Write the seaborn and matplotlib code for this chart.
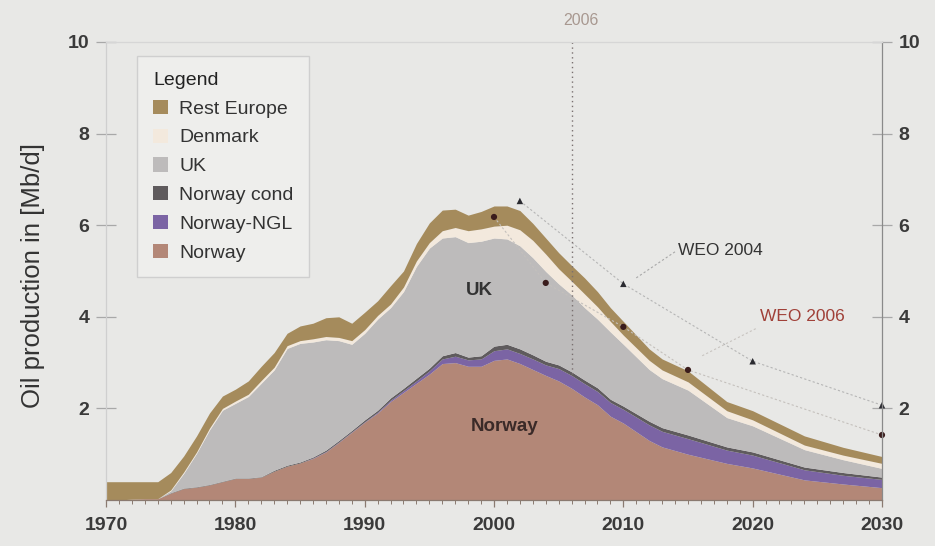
import matplotlib
matplotlib.use("Agg")
import matplotlib.pyplot as plt
import seaborn as sns
import pandas as pd

# Production by source, Mb/d
years = [1970, 1971, 1972, 1973, 1974, 1975, 1976, 1977, 1978, 1979,
         1980, 1981, 1982, 1983, 1984, 1985, 1986, 1987, 1988, 1989,
         1990, 1991, 1992, 1993, 1994, 1995, 1996, 1997, 1998, 1999,
         2000, 2001, 2002, 2003, 2004, 2005, 2006, 2007, 2008, 2009,
         2010, 2012, 2013, 2015, 2018, 2020, 2024, 2027, 2030]

norway = [0.00, 0.00, 0.02, 0.03, 0.03, 0.15, 0.25, 0.28, 0.33, 0.40,
          0.47, 0.47, 0.50, 0.63, 0.74, 0.81, 0.91, 1.05, 1.26, 1.48,
          1.70, 1.90, 2.15, 2.35, 2.55, 2.75, 2.98, 3.00, 2.92, 2.92,
          3.05, 3.08, 2.98, 2.85, 2.72, 2.60, 2.44, 2.25, 2.08, 1.83,
          1.68, 1.30, 1.16, 1.00, 0.80, 0.70, 0.44, 0.35, 0.27]

norway_ngl = [0.00, 0.00, 0.00, 0.00, 0.00, 0.00, 0.00, 0.00, 0.00, 0.00,
              0.00, 0.00, 0.00, 0.00, 0.00, 0.00, 0.01, 0.01, 0.01, 0.01,
              0.01, 0.02, 0.03, 0.04, 0.05, 0.07, 0.10, 0.14, 0.14, 0.16,
              0.21, 0.22, 0.22, 0.23, 0.23, 0.27, 0.28, 0.29, 0.29, 0.30,
              0.30, 0.34, 0.34, 0.34, 0.29, 0.28, 0.22, 0.19, 0.18]

norway_cond = [0.00, 0.00, 0.00, 0.00, 0.00, 0.01, 0.01, 0.01, 0.01, 0.01,
               0.01, 0.01, 0.01, 0.02, 0.02, 0.02, 0.02, 0.03, 0.03, 0.03,
               0.04, 0.04, 0.05, 0.05, 0.06, 0.06, 0.07, 0.08, 0.06, 0.07,
               0.10, 0.10, 0.10, 0.09, 0.08, 0.08, 0.08, 0.08, 0.08, 0.07,
               0.07, 0.08, 0.08, 0.08, 0.07, 0.07, 0.06, 0.06, 0.05]

uk = [0.00, 0.00, 0.00, 0.00, 0.00, 0.04, 0.32, 0.73, 1.19, 1.55,
      1.63, 1.78, 2.04, 2.19, 2.55, 2.59, 2.51, 2.41, 2.18, 1.88,
      1.89, 1.99, 1.97, 2.11, 2.44, 2.62, 2.57, 2.53, 2.50, 2.50,
      2.36, 2.30, 2.25, 2.12, 1.96, 1.77, 1.68, 1.58, 1.50, 1.47,
      1.35, 1.13, 1.07, 0.98, 0.64, 0.57, 0.38, 0.28, 0.19]

denmark = [0.00, 0.00, 0.00, 0.00, 0.00, 0.02, 0.03, 0.03, 0.04, 0.04,
           0.05, 0.05, 0.06, 0.06, 0.06, 0.06, 0.07, 0.07, 0.07, 0.08,
           0.08, 0.08, 0.08, 0.10, 0.12, 0.12, 0.16, 0.20, 0.26, 0.27,
           0.26, 0.30, 0.35, 0.38, 0.38, 0.33, 0.30, 0.30, 0.27, 0.23,
           0.20, 0.20, 0.19, 0.18, 0.15, 0.13, 0.10, 0.10, 0.11]

rest_europe = [0.40, 0.40, 0.38, 0.37, 0.37, 0.38, 0.35, 0.35, 0.33, 0.27,
               0.26, 0.29, 0.31, 0.32, 0.27, 0.32, 0.34, 0.41, 0.45, 0.38,
               0.38, 0.32, 0.40, 0.35, 0.38, 0.43, 0.45, 0.40, 0.34, 0.38,
               0.44, 0.42, 0.42, 0.37, 0.35, 0.35, 0.34, 0.35, 0.33, 0.30,
               0.30, 0.25, 0.24, 0.24, 0.20, 0.20, 0.20, 0.17, 0.15]

# IEA World Energy Outlook projections
weo2004_years = [2002, 2010, 2020, 2030]
weo2004_vals = [6.53, 4.72, 3.03, 2.07]
weo2006_years = [2000, 2004, 2010, 2015, 2030]
weo2006_vals = [6.18, 4.74, 3.78, 2.84, 1.42]

series_names = ["Norway", "Norway-NGL", "Norway cond", "UK", "Denmark", "Rest Europe"]
colors = ["#b38777", "#7b64a4", "#5f5b5d", "#bdbbbb", "#f3e9dd", "#a58b5c"]

bg = "#e8e8e6"
sns.set_theme(style="white", rc={"axes.facecolor": bg, "figure.facecolor": bg})
plt.rcParams["font.family"] = ["Liberation Sans", "DejaVu Sans"]

fig = plt.figure(figsize=(9.35, 5.46), dpi=100)
ax = fig.add_axes([0.1134, 0.0842, 0.8299, 0.8389])

ax.stackplot(years, norway, norway_ngl, norway_cond, uk, denmark, rest_europe,
             colors=colors, labels=series_names, linewidth=0, zorder=2)

# projection curves
w04 = pd.DataFrame({"year": weo2004_years, "value": weo2004_vals})
w06 = pd.DataFrame({"year": weo2006_years, "value": weo2006_vals})
sns.lineplot(data=w04, x="year", y="value", ax=ax, color="#b5b5b5",
             linewidth=0.8, linestyle=(0, (2, 2)), zorder=3)
sns.lineplot(data=w06, x="year", y="value", ax=ax, color="#c4c0bc",
             linewidth=0.8, linestyle=(0, (2, 2)), zorder=3)
sns.scatterplot(data=w04, x="year", y="value", ax=ax, marker="^", s=22,
                color="#2a2a30", edgecolor="none", zorder=5, clip_on=False)
sns.scatterplot(data=w06, x="year", y="value", ax=ax, marker="o", s=20,
                color="#3a1c1c", edgecolor="none", zorder=5, clip_on=False)

# leaders to the projection labels
ax.plot([2011.0, 2014.0], [4.85, 5.42], color="#a8a8a8", lw=0.8,
        linestyle=(0, (2, 2)), zorder=3)
ax.text(2014.2, 5.45, "WEO 2004", fontsize=12.5, color="#333333", va="center")
ax.plot([2016.1, 2020.3], [3.15, 3.75], color="#c8c4c0", lw=0.8,
        linestyle=(0, (2, 2)), zorder=3)
ax.text(2020.6, 4.0, "WEO 2006", fontsize=12.5, color="#a04038", va="center")

# 2006 marker
ax.plot([2006, 2006], [2.75, 10], color="#7a7070", lw=1.0,
        linestyle=(0, (1, 2.5)), zorder=4, clip_on=False)
ax.text(2006.7, 10.48, "2006", fontsize=11.5, color="#a89890",
        ha="center", va="center")

ax.text(1998.9, 4.58, "UK", fontsize=13.5, fontweight="bold",
        color="#333333", ha="center", va="center", zorder=6)
ax.text(2000.8, 1.6, "Norway", fontsize=13.5, fontweight="bold",
        color="#3a2a28", ha="center", va="center", zorder=6)

ax.set_xlim(1970, 2030)
ax.set_ylim(0, 10)
ax.set_xticks([1970, 1980, 1990, 2000, 2010, 2020, 2030])
ax.set_xticks(range(1970, 2031), minor=True)
ax.set_yticks([2, 4, 6, 8, 10])
ax.set_xlabel("")
ax.set_ylabel("Oil production in [Mb/d]", fontsize=18.5, color="#333333")
ax.yaxis.set_label_coords(-0.079, 0.49)

for side in ["left", "right", "top", "bottom"]:
    ax.spines[side].set_visible(True)
ax.spines["left"].set_color("#cfcfcf")
ax.spines["top"].set_color("#d6d6d6")
ax.spines["right"].set_color("#8a8a8a")
ax.spines["bottom"].set_color("#8a7a70")
for sp in ax.spines.values():
    sp.set_linewidth(0.9)
    sp.set_zorder(7)

ax.tick_params(axis="x", which="major", direction="out", length=5, width=0.9,
               color="#8a7a70", labelsize=14, labelcolor="#3a3a3a", pad=7,
               bottom=True)
ax.tick_params(axis="x", which="minor", direction="out", length=3, width=0.7,
               color="#8a7a70", bottom=True)
ax.tick_params(axis="y", which="major", direction="inout", length=14,
               width=0.9, color="#a8a8a8", labelsize=14, labelcolor="#3a3a3a",
               left=True, right=True, labelleft=True, labelright=True, pad=5)
for lbl in ax.get_xticklabels() + ax.get_yticklabels():
    lbl.set_fontweight("bold")

handles, labels = ax.get_legend_handles_labels()
handles = handles[:6][::-1]
labels = labels[:6][::-1]
leg = ax.legend(handles, labels, title="Legend", loc="upper left",
                bbox_to_anchor=(0.028, 0.99), fontsize=14,
                title_fontsize=14, frameon=True, facecolor="#eeeeec",
                edgecolor="#cfcfcf", framealpha=1, fancybox=False,
                handlelength=0.75, handleheight=0.75, handletextpad=0.6,
                labelspacing=0.56, borderpad=0.8)
leg._legend_box.align = "left"
for t in leg.get_texts():
    t.set_color("#333333")
leg.get_title().set_color("#222222")
leg.set_zorder(8)

fig.savefig("out.png", dpi=100, facecolor=bg)
